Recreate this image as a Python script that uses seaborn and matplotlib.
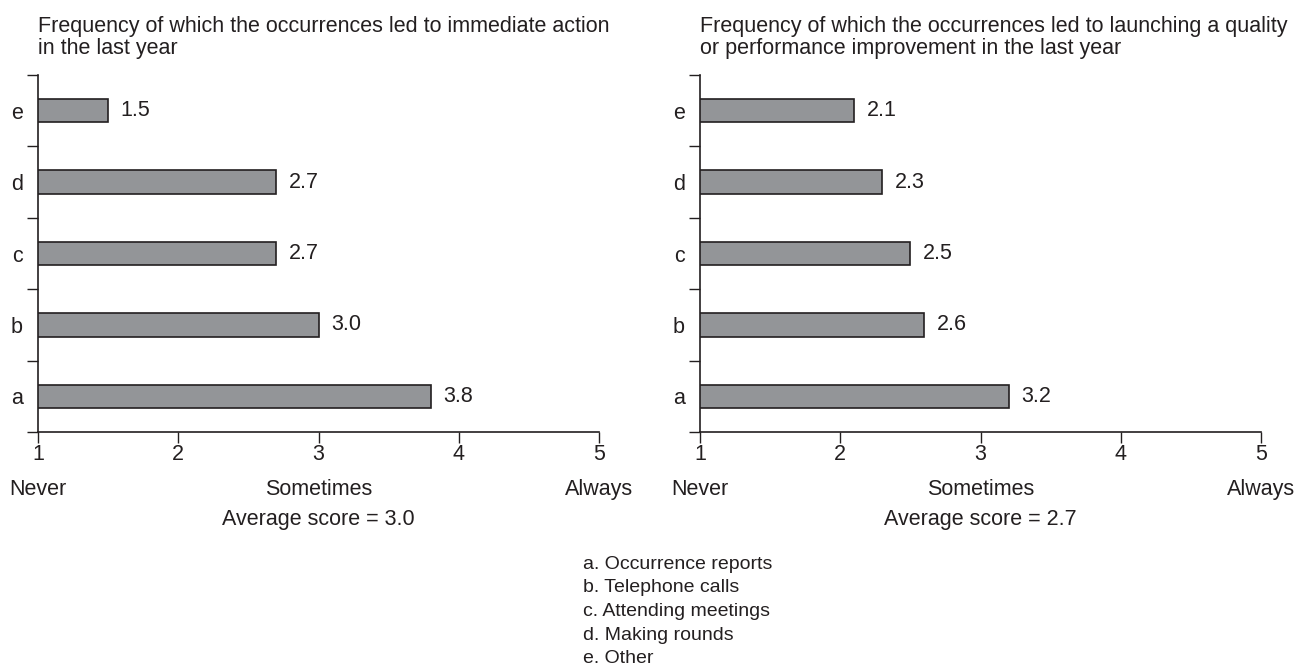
import numpy as np
import pandas as pd
import matplotlib
matplotlib.use("Agg")
import matplotlib.pyplot as plt
import seaborn as sns
from matplotlib.ticker import FixedLocator

# Data
categories = ['a', 'b', 'c', 'd', 'e']
immediate_action = [3.8, 3.0, 2.7, 2.7, 1.5]
improvement = [3.2, 2.6, 2.5, 2.3, 2.1]
titles = ["Frequency of which the occurrences led to immediate action\nin the last year",
          "Frequency of which the occurrences led to launching a quality\nor performance improvement in the last year"]
averages = ["Average score = 3.0", "Average score = 2.7"]
scale_ticks = [1, 2, 3, 4, 5]
scale_words = {1: "Never", 3: "Sometimes", 5: "Always"}
legend_lines = ["a. Occurrence reports", "b. Telephone calls", "c. Attending meetings",
                "d. Making rounds", "e. Other"]

sns.set_style("ticks")
plt.rcParams['font.family'] = ['Liberation Sans', 'DejaVu Sans']
FS = 15.5
INK = '#231f20'

fig = plt.figure(figsize=(12.96, 6.68), dpi=100)
W, H = 1296, 668
order = categories[::-1]  # e on top

def make_ax(x0, vals, title, avg):
    ax = fig.add_axes([x0 / W, 1 - 432 / H, 561 / W, 357 / H])
    df = pd.DataFrame({'cat': categories, 'val': vals})
    sns.barplot(data=df, x='val', y='cat', order=order, orient='h', ax=ax,
                color='#939598', edgecolor=INK, linewidth=1.2, width=0.33,
                saturation=1)
    ax.set_xlim(1, 5)
    ax.set_ylim(4.5, -0.5)
    ax.set_xticks(scale_ticks)
    ax.set_xticklabels([str(t) for t in scale_ticks], fontsize=FS, color=INK)
    ax.yaxis.set_minor_locator(FixedLocator(np.arange(-0.5, 5, 1)))
    ax.tick_params(axis='y', which='major', length=0, pad=11, labelsize=FS, labelcolor=INK)
    ax.tick_params(axis='y', which='minor', length=8, width=1, color=INK)
    ax.tick_params(axis='x', length=8, width=1, color=INK, pad=1)
    ax.set_xlabel('')
    ax.set_ylabel('')
    for s in ['top', 'right']:
        ax.spines[s].set_visible(False)
    for s in ['left', 'bottom']:
        ax.spines[s].set_color(INK)
        ax.spines[s].set_linewidth(1.2)
    for i, c in enumerate(order):
        v = vals[categories.index(c)]
        ax.text(v + 0.09, i, f"{v:.1f}", va='center', ha='left', fontsize=FS, color=INK)
    tr = ax.get_xaxis_transform()
    for x, w in scale_words.items():
        ax.text(x, -0.16, w, transform=tr, ha='center', va='center', fontsize=FS, color=INK)
    ax.text(3, -0.244, avg, transform=tr, ha='center', va='center', fontsize=FS, color=INK)
    ax.text(0, 1.105, title, transform=ax.transAxes, ha='left', va='center',
            fontsize=FS, color=INK, linespacing=1.1)
    return ax

make_ax(38, immediate_action, titles[0], averages[0])
make_ax(700, improvement, titles[1], averages[1])

fig.text(583 / W, 1 - 556 / H, "\n".join(legend_lines), ha='left', va='top',
         fontsize=14, color=INK, linespacing=1.5)

fig.savefig("out.png", dpi=100)
